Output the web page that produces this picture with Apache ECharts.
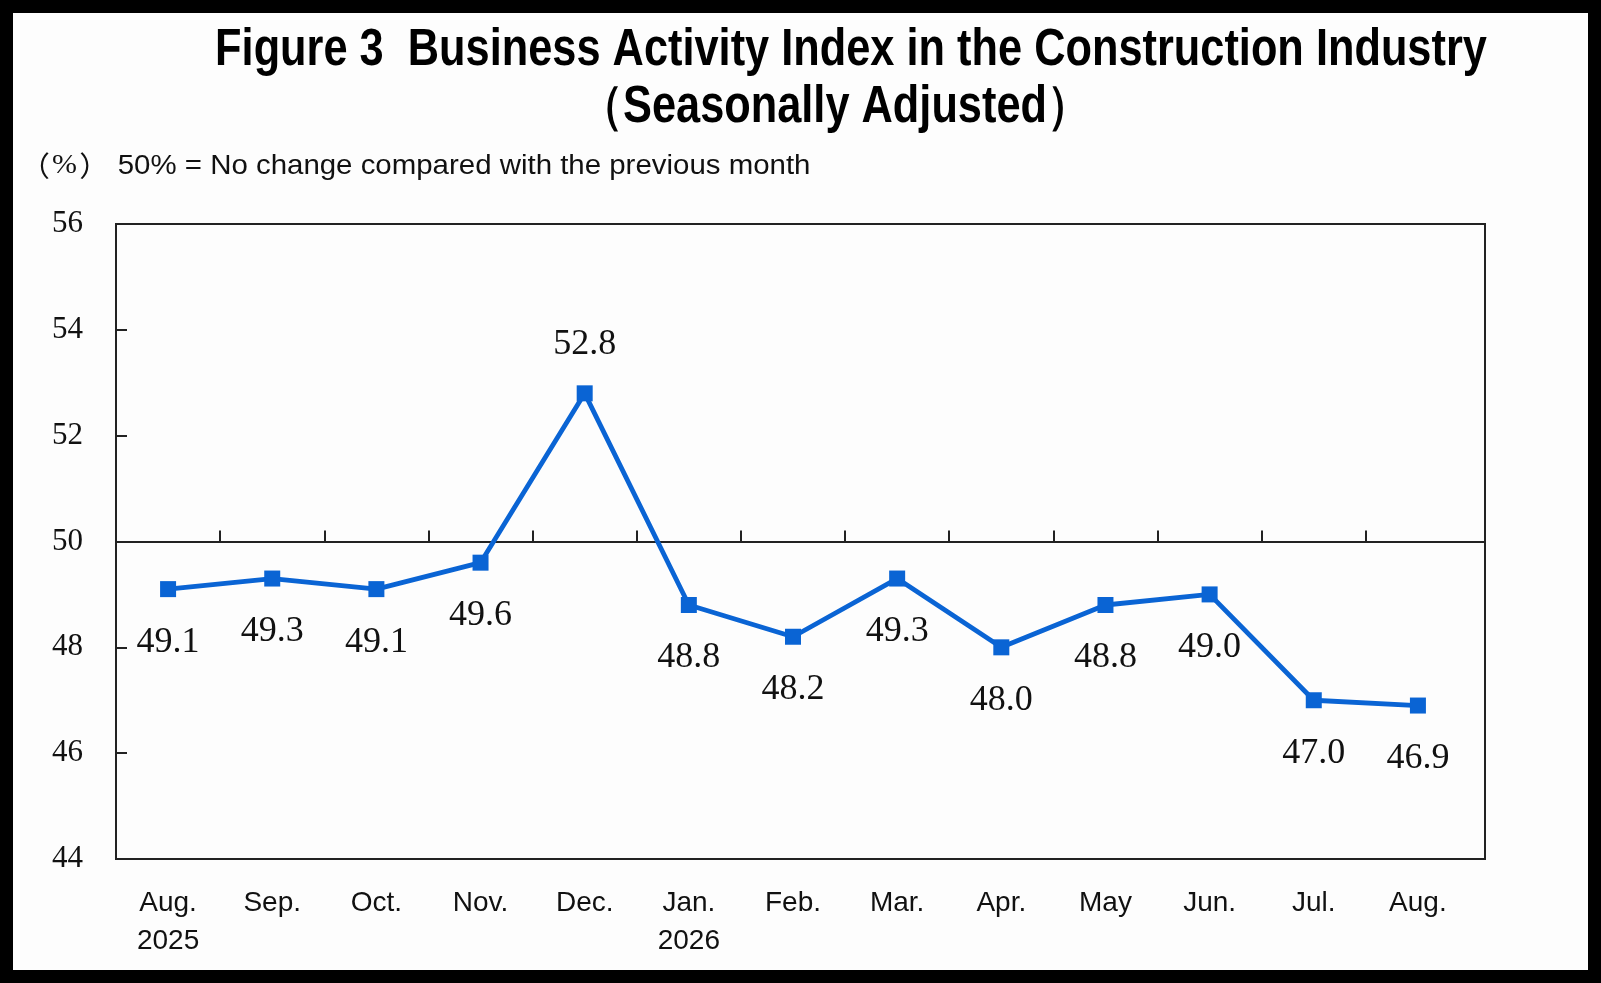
<!DOCTYPE html>
<html>
<head>
<meta charset="utf-8">
<title>Business Activity Index in the Construction Industry</title>
<script src="https://cdn.jsdelivr.net/npm/echarts@6/dist/echarts.min.js"></script>
<style>
  html, body { margin: 0; padding: 0; background: #000; }
  #chart { width: 1601px; height: 983px; }
</style>
</head>
<body>
<div id="chart"></div>
<script>
"use strict";

// months along the x axis (second line marks the year)
var months = ["Aug.\n2025", "Sep.", "Oct.", "Nov.", "Dec.", "Jan.\n2026", "Feb.", "Mar.", "Apr.", "May", "Jun.", "Jul.", "Aug."];
// construction business activity index, seasonally adjusted (%)
var indexValues = [49.1, 49.3, 49.1, 49.6, 52.8, 48.8, 48.2, 49.3, 48.0, 48.8, 49.0, 47.0, 46.9];
// value axis
var yMin = 44, yMax = 56, yStep = 2, neutral = 50;

var titleLine1 = "Figure 3  Business Activity Index in the Construction Industry";
var titleLine2 = "（Seasonally Adjusted）";
var noteText = "50% = No change compared with the previous month";

function construction() {
    var W = 1601, H = 983;
    var gridTop = 224, gridBottom = 124, gridLeft = 116, gridRight = 116;
    var gridW = W - gridLeft - gridRight;
    var gridH = H - gridTop - gridBottom;
    // the frame runs a little past the last month band
    var padRight = 15;
    var band = (gridW - padRight) / months.length;
    var xMin = -0.5, xMax = -0.5 + gridW / band;

    var sans = "'Liberation Sans', Arial, sans-serif";
    var serif = "'Liberation Serif', 'Times New Roman', serif";
    var ink = "#111";
    var frame = "#222";

    var seriesData = indexValues.map(function (v, i) {
        var up = v > neutral;
        return {
            value: [i, v],
            label: {
                position: up ? "top" : "bottom",
                distance: up ? 23 : 27
            }
        };
    });
    var labelAt = months.map(function (m, i) { return i; });
    var tickAt = months.slice(1).map(function (m, i) { return i + 0.5; });

    var e = {
        backgroundColor: "#fdfdfd",
        animation: !1,
        graphic: [{
            type: "text",
            x: 851,
            y: 51,
            scaleX: 0.85,
            style: {
                text: titleLine1,
                font: "bold 51px " + sans,
                fill: "#000",
                align: "center",
                verticalAlign: "middle"
            }
        }, {
            type: "text",
            x: 835,
            y: 108,
            scaleX: 0.85,
            style: {
                text: titleLine2,
                font: "bold 51px " + sans,
                fill: "#000",
                align: "center",
                verticalAlign: "middle"
            }
        }, {
            type: "text",
            x: 20,
            y: 166,
            scaleX: 1.07,
            style: {
                text: "{a|（}{b|%}{c|）}" + noteText,
                font: "27.5px " + sans,
                fill: ink,
                verticalAlign: "middle",
                rich: {
                    a: { fontFamily: "'Noto Sans CJK SC', sans-serif", fontSize: 28, fill: ink, padding: [0, 2, 0, 0] },
                    b: { fontFamily: serif, fontSize: 28, fill: ink },
                    c: { fontFamily: "'Noto Sans CJK SC', sans-serif", fontSize: 28, fill: ink, padding: [0, 8, 0, 2] }
                }
            }
        }, {
            type: "rect",
            silent: !0,
            z: 100,
            shape: { x: 0, y: 0, width: W, height: H },
            style: { fill: "none", stroke: "#000", lineWidth: 26 }
        }],
        grid: {
            show: !0,
            left: gridLeft,
            right: gridRight,
            top: gridTop,
            bottom: gridBottom,
            containLabel: !1,
            borderColor: frame,
            borderWidth: 2
        },
        xAxis: [{
            type: "value",
            min: xMin,
            max: xMax,
            axisTick: { show: !1 },
            axisLine: { onZero: !1, lineStyle: { color: frame, width: 2 } },
            axisLabel: {
                customValues: labelAt,
                formatter: function (v) { return months[Math.round(v)]; },
                color: ink,
                fontFamily: sans,
                fontSize: 28,
                lineHeight: 38,
                margin: 25,
                verticalAlign: "top",
                showMinLabel: !0,
                showMaxLabel: !0
            },
            splitLine: { show: !1 }
        }, {
            // the 50% line with its month ticks
            type: "value",
            min: xMin,
            max: xMax,
            position: "top",
            offset: -(yMax - neutral) / (yMax - yMin) * gridH,
            axisLine: { onZero: !1, lineStyle: { color: frame, width: 2 } },
            axisTick: { show: !0, inside: !1, length: 11, customValues: tickAt, lineStyle: { color: frame, width: 2 } },
            axisLabel: { show: !1 },
            splitLine: { show: !1 }
        }],
        yAxis: [{
            type: "value",
            min: yMin,
            max: yMax,
            interval: yStep,
            axisLine: { show: !0, onZero: !1, lineStyle: { color: frame, width: 2 } },
            axisTick: { show: !0, inside: !0, length: 11, lineStyle: { color: frame, width: 2 } },
            axisLabel: {
                color: ink,
                fontFamily: serif,
                fontSize: 31,
                margin: 33
            },
            splitLine: { show: !1 }
        }],
        series: [{
            name: "Business Activity Index",
            type: "line",
            data: seriesData,
            symbol: "rect",
            symbolSize: 16,
            itemStyle: { color: "#0a64d4" },
            lineStyle: { color: "#0a64d4", width: 4.8 },
            label: {
                show: !0,
                color: ink,
                fontFamily: serif,
                fontSize: 36,
                formatter: function (p) { return p.value[1].toFixed(1); }
            }
        }]
    };
    echarts.init(document.getElementById("chart")).setOption(e);
}

construction();
</script>
</body>
</html>
